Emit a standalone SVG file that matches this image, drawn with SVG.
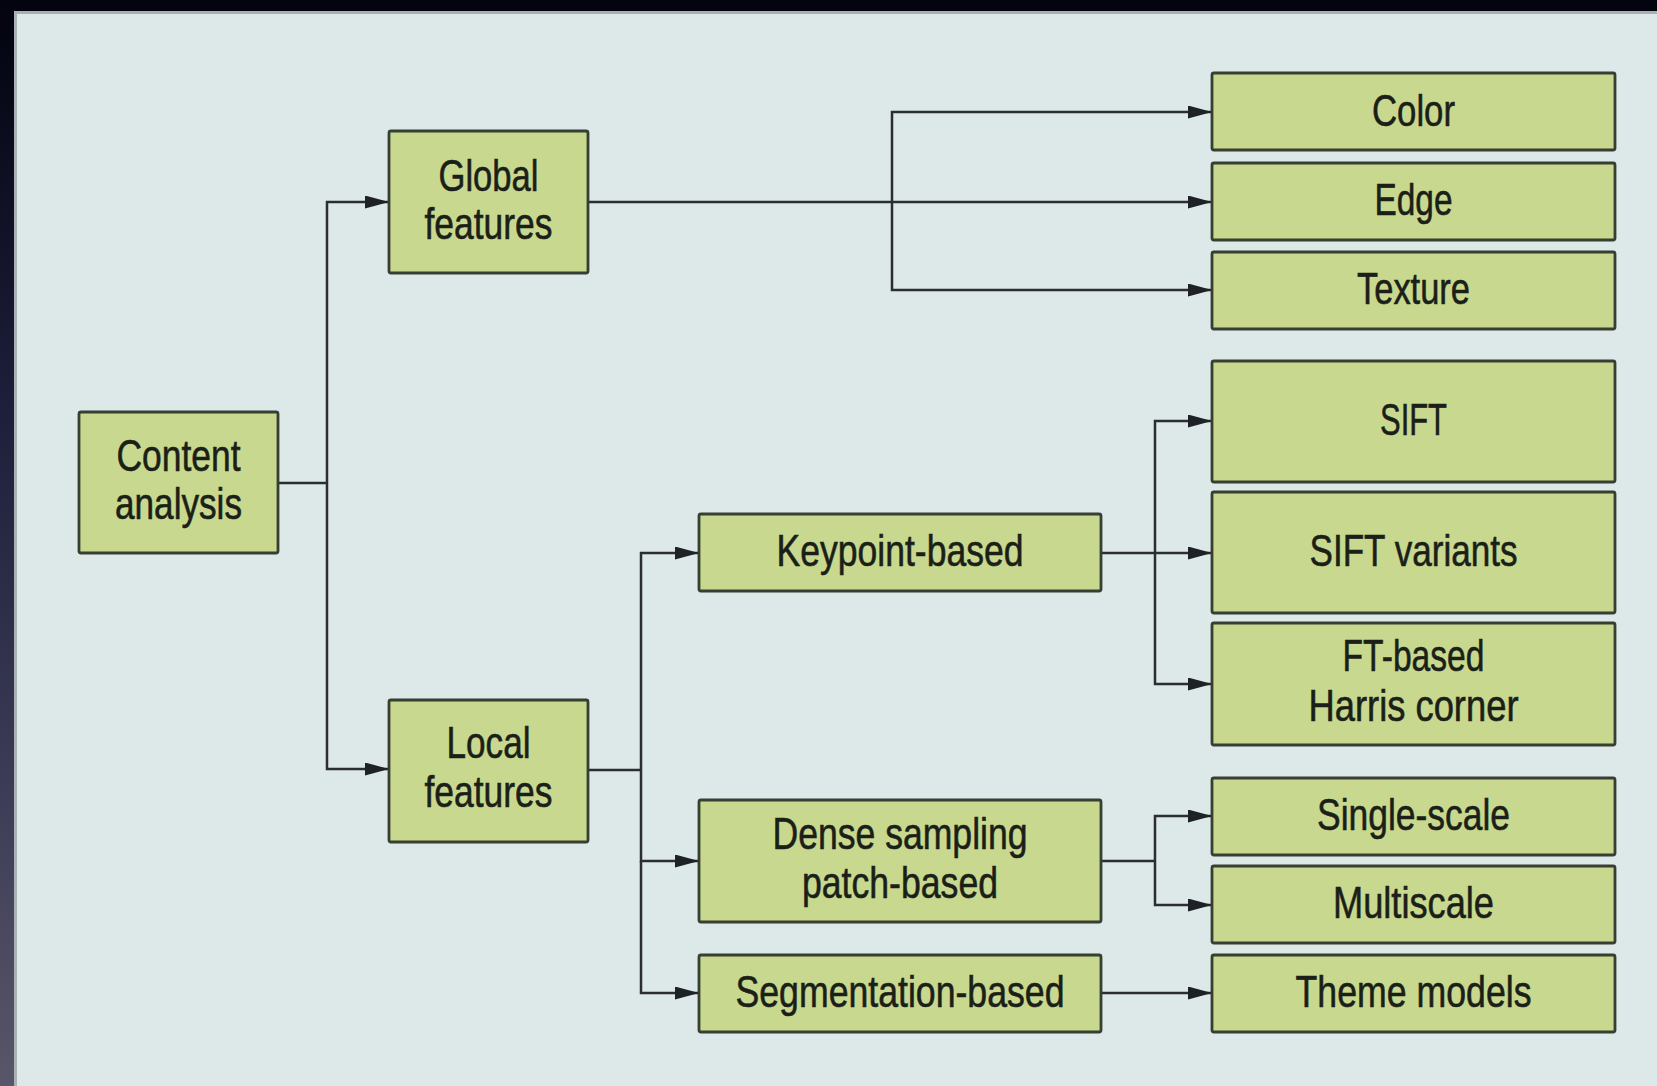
<svg xmlns="http://www.w3.org/2000/svg" width="1657" height="1086" viewBox="0 0 1657 1086">
  <defs>
    <linearGradient id="band" x1="0" y1="0" x2="0" y2="1">
      <stop offset="0" stop-color="#03040f"/>
      <stop offset="0.35" stop-color="#1c1d38"/>
      <stop offset="0.7" stop-color="#3a3a55"/>
      <stop offset="1" stop-color="#585668"/>
    </linearGradient>
    <marker id="arrow" markerUnits="userSpaceOnUse" markerWidth="24" markerHeight="13" refX="24" refY="6.5" orient="auto">
      <path d="M0,0 L24,6.5 L0,13 Z" fill="#1e2226"/>
    </marker>
  </defs>
  <style>
    .box { fill: #c8d98f; stroke: #363f31; stroke-width: 2.8; }
    .lbl { font-family: "Liberation Sans Narrow", "Liberation Sans", Arial, sans-serif; font-size: 44px; fill: #1b1f18; stroke: #1b1f18; stroke-width: 0.6; text-anchor: middle; }
    .conn path { fill: none; stroke: #2a2e32; stroke-width: 2.5; marker-end: url(#arrow); }
    .conn path.plain { marker-end: none; }
  </style>

  <!-- background -->
  <rect x="0" y="0" width="1657" height="1086" fill="#03040f"/>
  <rect x="0" y="11" width="15" height="1075" fill="url(#band)"/>
  <rect x="14" y="11" width="1643" height="1075" fill="#dde9e9"/>
  <line x1="15.5" y1="11" x2="15.5" y2="1086" stroke="#a9b0b6" stroke-width="3"/>
  <line x1="14" y1="12.5" x2="1657" y2="12.5" stroke="#a9b0b6" stroke-width="3"/>

  <g id="connectors" class="conn">
    <path class="plain" d="M278,483 H327"/>
    <path d="M327,483 V202 H389"/>
    <path d="M327,483 V769 H389"/>

    <path d="M588,202 H1212"/>
    <path d="M892,202 V112 H1212"/>
    <path d="M892,202 V290 H1212"/>

    <path class="plain" d="M588,770 H641"/>
    <path d="M641,770 V553 H699"/>
    <path d="M641,770 V861 H699"/>
    <path d="M641,861 V993 H699"/>

    <path d="M1101,553 H1212"/>
    <path d="M1155,553 V421 H1212"/>
    <path d="M1155,553 V684 H1212"/>

    <path class="plain" d="M1101,861 H1155"/>
    <path d="M1155,861 V816 H1212"/>
    <path d="M1155,861 V905 H1212"/>

    <path d="M1101,993 H1212"/>
  </g>

  <g id="content-analysis">
    <rect class="box" x="79" y="412" width="199" height="141" rx="2"/>
    <text class="lbl" x="178.5" y="471" textLength="124" lengthAdjust="spacingAndGlyphs">Content</text>
    <text class="lbl" x="178.5" y="519" textLength="127" lengthAdjust="spacingAndGlyphs">analysis</text>
  </g>

  <g id="global-features">
    <rect class="box" x="389" y="131" width="199" height="142" rx="2"/>
    <text class="lbl" x="488.5" y="191" textLength="100" lengthAdjust="spacingAndGlyphs">Global</text>
    <text class="lbl" x="488.5" y="239" textLength="128" lengthAdjust="spacingAndGlyphs">features</text>
  </g>

  <g id="local-features">
    <rect class="box" x="389" y="700" width="199" height="142" rx="2"/>
    <text class="lbl" x="488.5" y="758" textLength="84" lengthAdjust="spacingAndGlyphs">Local</text>
    <text class="lbl" x="488.5" y="807" textLength="128" lengthAdjust="spacingAndGlyphs">features</text>
  </g>

  <g id="keypoint-based">
    <rect class="box" x="699" y="514" width="402" height="77" rx="2"/>
    <text class="lbl" x="900" y="566" textLength="247" lengthAdjust="spacingAndGlyphs">Keypoint-based</text>
  </g>

  <g id="dense-sampling">
    <rect class="box" x="699" y="800" width="402" height="122" rx="2"/>
    <text class="lbl" x="900" y="848.5" textLength="255" lengthAdjust="spacingAndGlyphs">Dense sampling</text>
    <text class="lbl" x="900" y="898" textLength="196" lengthAdjust="spacingAndGlyphs">patch-based</text>
  </g>

  <g id="segmentation-based">
    <rect class="box" x="699" y="955" width="402" height="77" rx="2"/>
    <text class="lbl" x="900" y="1007" textLength="329" lengthAdjust="spacingAndGlyphs">Segmentation-based</text>
  </g>

  <g id="color">
    <rect class="box" x="1212" y="73" width="403" height="77" rx="2"/>
    <text class="lbl" x="1413.5" y="125.5" textLength="83" lengthAdjust="spacingAndGlyphs">Color</text>
  </g>

  <g id="edge">
    <rect class="box" x="1212" y="163" width="403" height="77" rx="2"/>
    <text class="lbl" x="1413.5" y="215" textLength="78" lengthAdjust="spacingAndGlyphs">Edge</text>
  </g>

  <g id="texture">
    <rect class="box" x="1212" y="252" width="403" height="77" rx="2"/>
    <text class="lbl" x="1413.5" y="304" textLength="113" lengthAdjust="spacingAndGlyphs">Texture</text>
  </g>

  <g id="sift">
    <rect class="box" x="1212" y="361" width="403" height="121" rx="2"/>
    <text class="lbl" x="1413.5" y="434.5" textLength="67" lengthAdjust="spacingAndGlyphs">SIFT</text>
  </g>

  <g id="sift-variants">
    <rect class="box" x="1212" y="492" width="403" height="121" rx="2"/>
    <text class="lbl" x="1413.5" y="565.5" textLength="208" lengthAdjust="spacingAndGlyphs">SIFT variants</text>
  </g>

  <g id="ft-harris">
    <rect class="box" x="1212" y="623" width="403" height="122" rx="2"/>
    <text class="lbl" x="1413.5" y="671" textLength="142" lengthAdjust="spacingAndGlyphs">FT-based</text>
    <text class="lbl" x="1413.5" y="720.5" textLength="210" lengthAdjust="spacingAndGlyphs">Harris corner</text>
  </g>

  <g id="single-scale">
    <rect class="box" x="1212" y="778" width="403" height="77" rx="2"/>
    <text class="lbl" x="1413.5" y="829.5" textLength="193" lengthAdjust="spacingAndGlyphs">Single-scale</text>
  </g>

  <g id="multiscale">
    <rect class="box" x="1212" y="866" width="403" height="77" rx="2"/>
    <text class="lbl" x="1413.5" y="918" textLength="161" lengthAdjust="spacingAndGlyphs">Multiscale</text>
  </g>

  <g id="theme-models">
    <rect class="box" x="1212" y="955" width="403" height="77" rx="2"/>
    <text class="lbl" x="1413.5" y="1007" textLength="236" lengthAdjust="spacingAndGlyphs">Theme models</text>
  </g>
</svg>
